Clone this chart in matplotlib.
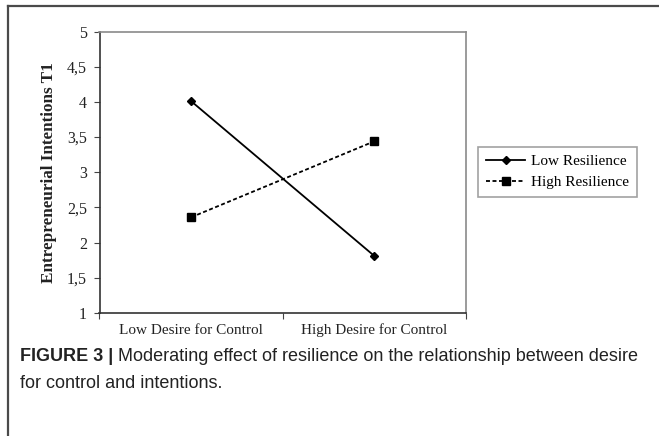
import matplotlib
matplotlib.use("Agg")
import matplotlib.pyplot as plt
from matplotlib.lines import Line2D
from matplotlib.transforms import blended_transform_factory

categories = ["Low Desire for Control", "High Desire for Control"]
low_resilience = [4.01, 1.81]
high_resilience = [2.36, 3.44]
series_names = ["Low Resilience", "High Resilience"]
y_ticks = [1, 1.5, 2, 2.5, 3, 3.5, 4, 4.5, 5]
y_tick_labels = ["1", "1,5", "2", "2,5", "3", "3,5", "4", "4,5", "5"]
y_label = "Entrepreneurial Intentions T1"
caption_bold = "FIGURE 3 |"
caption_rest = " Moderating effect of resilience on the relationship between desire"
caption_line2 = "for control and intentions."

W, H = 659, 436
fig = plt.figure(figsize=(W / 100, H / 100), dpi=100)
serif = "Liberation Serif"
tc = "#222222"

ax = fig.add_axes([99.5 / W, 1 - 313 / H, (466 - 99.5) / W, (313 - 31.5) / H])
x = list(range(len(categories)))
ax.plot(x, low_resilience, color="black", lw=1.3, marker="D", ms=4.5,
        label=series_names[0])
ax.plot(x, high_resilience, color="black", lw=1.3, ls=(0, (2.2, 1.4)), marker="s",
        ms=6, label=series_names[1])

ax.set_xlim(-0.5, 1.5)
ax.set_ylim(1, 5)
ax.set_yticks(y_ticks)
ax.set_yticklabels(y_tick_labels, fontfamily=serif, fontsize=11.5, color=tc)
ax.set_xticks([-0.5, 0.5, 1.5])
ax.set_xticklabels([])
trans = blended_transform_factory(ax.transData, fig.transFigure)
for xi, lab in zip(x, categories):
    ax.text(xi, 1 - 330 / H, lab, transform=trans, ha="center", va="center",
            fontfamily=serif, fontsize=11, color=tc)
ax.tick_params(axis="x", which="major", length=4, direction="out", color="#444444")
ax.tick_params(axis="y", length=4, direction="out", pad=5, color="#444444")
for s in ["top", "right"]:
    ax.spines[s].set_color("#8a8a8a")
    ax.spines[s].set_linewidth(1.2)
for s in ["left", "bottom"]:
    ax.spines[s].set_color("#333333")
    ax.spines[s].set_linewidth(1.2)
ax.set_ylabel(y_label, fontfamily=serif, fontweight="bold", fontsize=12.3,
              labelpad=7, color=tc)

leg = fig.legend(loc="upper left", bbox_to_anchor=(478 / W, 1 - 147 / H),
                 prop={"family": serif, "size": 11}, frameon=True, fancybox=False,
                 handlelength=2.6, handletextpad=0.4, borderpad=0.5,
                 labelspacing=0.45, borderaxespad=0)
leg.get_frame().set_edgecolor("#8a8a8a")
leg.get_frame().set_linewidth(1.2)

# outer frame lines (top and left)
fig.add_artist(Line2D([8 / W, 1], [1 - 6.5 / H, 1 - 6.5 / H], color="#4a4a4a",
                      lw=1.6, transform=fig.transFigure))
fig.add_artist(Line2D([8 / W, 8 / W], [1 - 6.5 / H, 0], color="#4a4a4a",
                      lw=1.6, transform=fig.transFigure))

sans = "Liberation Sans"
t1 = fig.text(20 / W, 1 - 356 / H, caption_bold, fontfamily=sans, fontweight="bold",
              fontsize=13, va="center", ha="left", color=tc)
fig.canvas.draw()
r = fig.canvas.get_renderer()
bb = t1.get_window_extent(r)
fig.text(bb.x1 / W, 1 - 356 / H, caption_rest, fontfamily=sans, fontsize=13,
         va="center", ha="left", color=tc)
fig.text(20 / W, 1 - 383 / H, caption_line2, fontfamily=sans, fontsize=13,
         va="center", ha="left", color=tc)

fig.savefig("out.png", dpi=100)
